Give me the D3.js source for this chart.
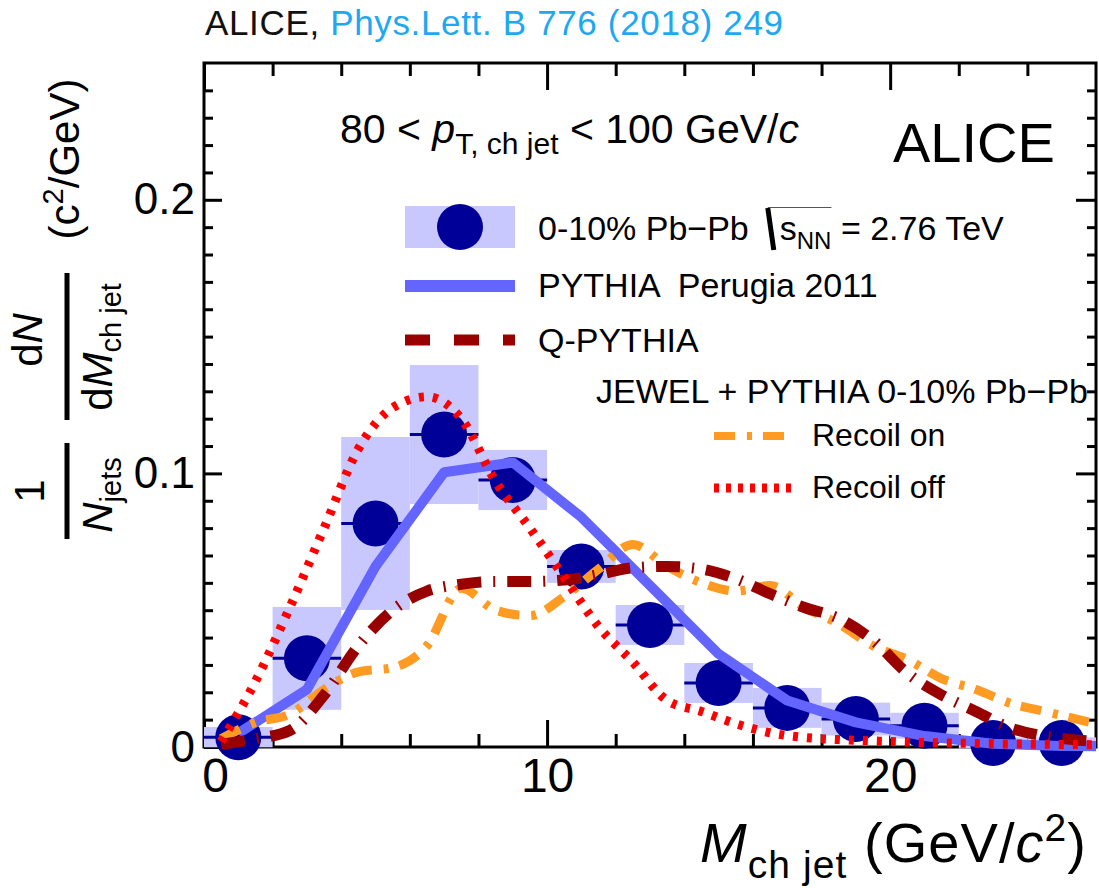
<!DOCTYPE html>
<html>
<head>
<meta charset="utf-8">
<script src="https://cdn.jsdelivr.net/npm/d3@7"></script>
<style>
body { margin: 0; background: #fff; }
svg { display: block; font-family: "Liberation Sans", Arial, Helvetica, sans-serif; }
svg text { white-space: pre; }
</style>
</head>
<body>
<svg id="chart"></svg>
<script>
// ALICE 0-10% Pb-Pb, 2 GeV bins
var massBins = [1, 3, 5, 7, 9, 11, 13, 15, 17, 19, 21, 23, 25]
var alicePbPb = [0.0036, 0.0324, 0.0817, 0.1142, 0.0976, 0.066, 0.0446, 0.0234, 0.0143, 0.0102, 0.0078, 0.0015, 0.0015]
var aliceSys = [0.0037, 0.0188, 0.0316, 0.0254, 0.011, 0.006, 0.0073, 0.0073, 0.0073, 0.006, 0.0047, 0.002, 0.002]

// PYTHIA Perugia 2011
var pythiaX = [1, 3, 5, 7, 9, 11, 13, 15, 17, 19, 21, 23, 25, 27]
var pythiaPerugia = [0.005, 0.021, 0.066, 0.1004, 0.104, 0.084, 0.059, 0.034, 0.017, 0.009, 0.004, 0.0012, 0.0004, 0.0002]

// models on 1 GeV steps
var fineX = [0.5, 1.5, 2.5, 3.5, 4.5, 5.5, 6.5, 7.5, 8.5, 9.5, 10.5, 11.5, 12.5, 13.5, 14.5, 15.5, 16.5, 17.5, 18.5, 19.5, 20.5, 21.5, 22.5, 23.5, 24.5, 25.5, 26.5]
var qPythia = [0.001, 0.003, 0.006, 0.019, 0.037, 0.05, 0.057, 0.0595, 0.0605, 0.0605, 0.061, 0.063, 0.0655, 0.066, 0.065, 0.0615, 0.056, 0.051, 0.047, 0.039, 0.027, 0.019, 0.013, 0.007, 0.004, 0.0025, 0.0015]
var jewelRecoilOn = [0.003, 0.009, 0.012, 0.021, 0.0275, 0.029, 0.037, 0.058, 0.05, 0.048, 0.055, 0.065, 0.074, 0.066, 0.06, 0.057, 0.059, 0.051, 0.045, 0.037, 0.032, 0.025, 0.021, 0.016, 0.013, 0.01, 0.007]
var jewelRecoilOff = [0.002, 0.024, 0.051, 0.08, 0.109, 0.124, 0.128, 0.12, 0.097, 0.08, 0.062, 0.044, 0.031, 0.017, 0.013, 0.0085, 0.0052, 0.0035, 0.0027, 0.0022, 0.0018, 0.0015, 0.0013, 0.0011, 0.001, 0.0009, 0.0008]

var xMajorTicks = [0, 10, 20]
var xMinorTicks = [2, 4, 6, 8, 12, 14, 16, 18, 22, 24]
var yMajorTicks = [0, 0.1, 0.2]

var navy = "#000099", boxFill = "#c8c8ff", pythiaBlue = "#6464ff"
var qRed = "#990000", jewelOrange = "#ff9a22", jewelRed = "#ff0000"

var svg = d3.select("#chart").attr("width", 1099).attr("height", 888)

var xScale = d3.scaleLinear().domain([0, 26]).range([204, 1096])
var yScale = d3.scaleLinear().domain([0, 0.25]).range([747, 63])

var yMinor = d3.range(1, 25).map(function(d){ return d / 100 }).filter(function(d){ return d % 0.1 > 0.001 && d % 0.1 < 0.099 })

// frame
svg.append("rect")
    .attr("x", 204).attr("y", 63).attr("width", 892).attr("height", 684)
    .attr("fill", "none").attr("stroke", "black").attr("stroke-width", 3)

var tickAxis = function(gen, transform, values, size)
{
    var g = svg.append("g")
        .attr("transform", transform)
        .call(gen.tickValues(values).tickSize(size).tickSizeOuter(0).tickFormat(""))
    g.select(".domain").remove()
    g.selectAll("line").attr("stroke", "black").attr("stroke-width", 3)
}
tickAxis(d3.axisBottom(xScale), "translate(0,747)", xMajorTicks, -27)
tickAxis(d3.axisBottom(xScale), "translate(0,747)", xMinorTicks, -13)
tickAxis(d3.axisTop(xScale), "translate(0,63)", xMajorTicks, -27)
tickAxis(d3.axisTop(xScale), "translate(0,63)", xMinorTicks, -13)
tickAxis(d3.axisLeft(yScale), "translate(204,0)", yMajorTicks, -18)
tickAxis(d3.axisLeft(yScale), "translate(204,0)", yMinor, -9)
tickAxis(d3.axisRight(yScale), "translate(1096,0)", yMajorTicks, -20)
tickAxis(d3.axisRight(yScale), "translate(1096,0)", yMinor, -9)

// tick labels
var xl = svg.append("g")
    .attr("transform", "translate(0,747)")
    .call(d3.axisBottom(xScale).tickValues(xMajorTicks).tickSize(0).tickPadding(11).tickFormat(d3.format("d")))
xl.select(".domain").remove()
xl.attr("font-size", 48).attr("font-family", null)
xl.selectAll(".tick text").filter(function(d){ return d === 0 }).attr("x", 11)

var yl = svg.append("g")
    .attr("transform", "translate(204,0)")
    .call(d3.axisLeft(yScale).tickValues(yMajorTicks).tickSize(0).tickPadding(9)
        .tickFormat(function(d){ return d === 0 ? "0" : d3.format(".1f")(d) }))
yl.select(".domain").remove()
yl.attr("font-size", 44).attr("font-family", null)

// rich text helper
var rich = function(sel, parts)
{
    var cur = 0
    parts.forEach(function(p)
    {
        var sh = p.sh || 0
        sel.append("tspan")
            .text(p.t)
            .attr("font-size", p.fs)
            .attr("font-style", p.it ? "italic" : null)
            .attr("dy", sh - cur)
        cur = sh
    })
    return sel
}

// systematic boxes
svg.append("g").selectAll("rect")
    .data(massBins)
    .enter()
    .append("rect")
    .attr("x", function(m){ return xScale(m - 1) })
    .attr("width", function(m){ return xScale(m + 1) - xScale(m - 1) })
    .attr("y", function(m, i){ return yScale(alicePbPb[i] + aliceSys[i]) })
    .attr("height", function(m, i){ return yScale(alicePbPb[i] - aliceSys[i]) - yScale(alicePbPb[i] + aliceSys[i]) })
    .attr("fill", boxFill)

// x error bars
svg.append("g").selectAll("line")
    .data(massBins)
    .enter()
    .append("line")
    .attr("x1", function(m){ return xScale(m - 1) })
    .attr("x2", function(m){ return xScale(m + 1) })
    .attr("y1", function(m, i){ return yScale(alicePbPb[i]) })
    .attr("y2", function(m, i){ return yScale(alicePbPb[i]) })
    .attr("stroke", navy).attr("stroke-width", 3)

svg.append("g").selectAll("circle")
    .data(massBins)
    .enter()
    .append("circle")
    .attr("cx", function(m){ return xScale(m) })
    .attr("cy", function(m, i){ return yScale(alicePbPb[i]) })
    .attr("r", 23)
    .attr("fill", navy)

// curves
svg.append("clipPath").attr("id", "frameClip")
    .append("rect").attr("x", 204).attr("y", 63).attr("width", 892).attr("height", 700)

var curves = svg.append("g").attr("clip-path", "url(#frameClip)")

var drawCurve = function(xs, ys, color, width, dash, curve)
{
    var line = d3.line()
        .x(function(d, i){ return xScale(xs[i]) })
        .y(function(d){ return yScale(d) })
        .curve(curve)
    curves.append("path")
        .datum(ys)
        .attr("d", line)
        .attr("fill", "none")
        .attr("stroke", color)
        .attr("stroke-width", width)
        .attr("stroke-dasharray", dash)
        .attr("stroke-linejoin", "round")
}
drawCurve(pythiaX, pythiaPerugia, pythiaBlue, 10, null, d3.curveLinear)
drawCurve(fineX, jewelRecoilOn, jewelOrange, 9, "21,12,5,11", d3.curveMonotoneX)
drawCurve(fineX, qPythia, qRed, 11, "24,12,2,12", d3.curveMonotoneX)
drawCurve(fineX, jewelRecoilOff, jewelRed, 9, "5,9", d3.curveMonotoneX)

// legend
var leg = svg.append("g")
leg.append("rect").attr("x", 405).attr("y", 206).attr("width", 110).attr("height", 42).attr("fill", boxFill)
leg.append("circle").attr("cx", 460).attr("cy", 227).attr("r", 23).attr("fill", navy)
leg.append("line").attr("x1", 405).attr("x2", 515).attr("y1", 286).attr("y2", 286)
    .attr("stroke", pythiaBlue).attr("stroke-width", 12)
leg.append("line").attr("x1", 405).attr("x2", 515).attr("y1", 340).attr("y2", 340)
    .attr("stroke", qRed).attr("stroke-width", 11).attr("stroke-dasharray", "25,24")
leg.append("line").attr("x1", 714).attr("x2", 784).attr("y1", 436).attr("y2", 436)
    .attr("stroke", jewelOrange).attr("stroke-width", 8).attr("stroke-dasharray", "21,12,5,11")
leg.append("line").attr("x1", 714).attr("x2", 796).attr("y1", 488).attr("y2", 488)
    .attr("stroke", jewelRed).attr("stroke-width", 9).attr("stroke-dasharray", "5,7")

var t1 = leg.append("text").attr("x", 538).attr("y", 240).attr("font-size", 34).text("0-10% Pb\u2212Pb")
var r0 = 538 + t1.node().getComputedTextLength() + 16
var t2 = rich(leg.append("text").attr("x", r0 + 15).attr("y", 240), [
    {t: "s", fs: 34}, {t: "NN", fs: 24, sh: 9}, {t: " = 2.76 TeV", fs: 34}])
var sW = t2.selectAll("tspan").nodes().slice(0, 2).reduce(function(a, n){ return a + n.getComputedTextLength() }, 0)
leg.append("path").attr("d", "M" + (r0 + 3) + ",208 L" + (r0 + 9) + ",250")
    .attr("stroke", "black").attr("stroke-width", 5)
leg.append("path").attr("d", "M" + (r0 + 3) + ",207.5 H" + (r0 + 15 + sW))
    .attr("stroke", "#555").attr("stroke-width", 1)

leg.append("text").attr("x", 538).attr("y", 297).attr("font-size", 34).text("PYTHIA  Perugia 2011")
leg.append("text").attr("x", 538).attr("y", 352).attr("font-size", 34).text("Q-PYTHIA")
leg.append("text").attr("x", 596).attr("y", 403).attr("font-size", 34).text("JEWEL + PYTHIA 0-10% Pb\u2212Pb")
leg.append("text").attr("x", 812).attr("y", 446).attr("font-size", 32).text("Recoil on")
leg.append("text").attr("x", 812).attr("y", 498).attr("font-size", 32).text("Recoil off")

// labels
var titleText = svg.append("text").attr("x", 205).attr("y", 35).attr("font-size", 35)
    .attr("textLength", 578).attr("lengthAdjust", "spacing")
titleText.append("tspan").text("ALICE, ").attr("fill", "#111")
titleText.append("tspan").text("Phys.Lett. B 776 (2018) 249").attr("fill", "#1ea8f2")

rich(svg.append("text").attr("x", 340).attr("y", 143), [
    {t: "80 < ", fs: 41}, {t: "p", fs: 41, it: true}, {t: "T, ch jet", fs: 30, sh: 11},
    {t: " < 100 GeV/", fs: 41}, {t: "c", fs: 41, it: true}])

svg.append("text").attr("x", 893).attr("y", 162).attr("font-size", 56).text("ALICE")

rich(svg.append("text").attr("x", 700).attr("y", 862).attr("textLength", 386).attr("lengthAdjust", "spacing"), [
    {t: "M", fs: 56, it: true}, {t: "ch jet", fs: 39, sh: 16},
    {t: " (GeV/", fs: 56}, {t: "c", fs: 56, it: true}, {t: "2", fs: 39, sh: -21}, {t: ")", fs: 56}])

// y title, rotated
var yt = svg.append("g").attr("transform", "translate(66,0) rotate(-90)")
yt.append("text").attr("x", -491).attr("y", -22).attr("text-anchor", "middle").attr("font-size", 42).text("1")
yt.append("line").attr("x1", -539).attr("x2", -443).attr("y1", 1).attr("y2", 1).attr("stroke", "black").attr("stroke-width", 5)
rich(yt.append("text").attr("x", -495).attr("y", 46).attr("text-anchor", "middle"), [
    {t: "N", fs: 42, it: true}, {t: "jets", fs: 29, sh: 9}])
rich(yt.append("text").attr("x", -340).attr("y", -24).attr("text-anchor", "middle"), [
    {t: "d", fs: 42}, {t: "N", fs: 42, it: true}])
yt.append("line").attr("x1", -420).attr("x2", -273).attr("y1", 1).attr("y2", 1).attr("stroke", "black").attr("stroke-width", 5)
rich(yt.append("text").attr("x", -347).attr("y", 46).attr("text-anchor", "middle"), [
    {t: "d", fs: 42}, {t: "M", fs: 42, it: true}, {t: "ch jet", fs: 29, sh: 9}])
rich(yt.append("text").attr("x", -159).attr("y", 13).attr("text-anchor", "middle"), [
    {t: "(c", fs: 42}, {t: "2", fs: 29, sh: -16}, {t: "/GeV)", fs: 42}])
</script>
</body>
</html>
